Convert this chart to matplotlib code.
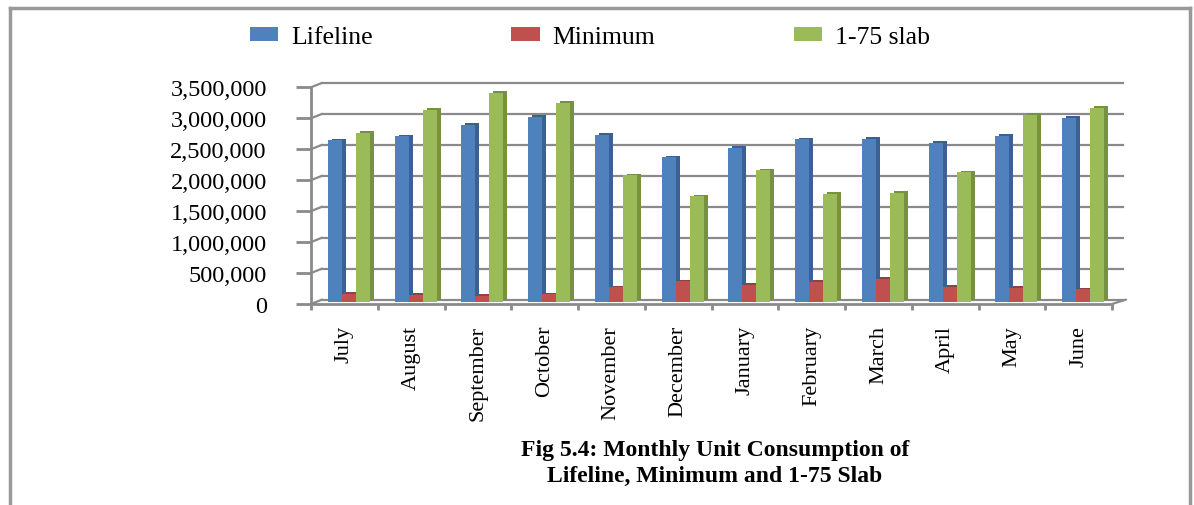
import matplotlib
matplotlib.use("Agg")
import matplotlib.pyplot as plt
from matplotlib.transforms import offset_copy
from matplotlib.lines import Line2D
from matplotlib.ticker import FixedLocator

# ---------------- data ----------------
months = ["July", "August", "September", "October", "November", "December",
          "January", "February", "March", "April", "May", "June"]
lifeline = [2606000, 2670000, 2860000, 2990000, 2700000, 2330000,
            2490000, 2620000, 2630000, 2570000, 2680000, 2970000]
minimum = [124000, 110000, 90000, 120000, 230000, 330000,
           270000, 320000, 370000, 240000, 220000, 200000]
slab_1_75 = [2730000, 3100000, 3370000, 3210000, 2040000, 1700000,
             2120000, 1740000, 1760000, 2090000, 3020000, 3130000]
series_names = ["Lifeline", "Minimum", "1-75 slab"]
y_ticks = [0, 500000, 1000000, 1500000, 2000000, 2500000, 3000000, 3500000]
title_text = "Fig 5.4: Monthly Unit Consumption of\nLifeline, Minimum and 1-75 Slab"

# ---------------- style ----------------
front_cols = ["#4F81BD", "#C0504D", "#9BBB59"]
side_cols = ["#3A6192", "#94403D", "#76923F"]
grid_col = "#8A8A8A"
W, H = 1194, 506
DPI = 100

fig = plt.figure(figsize=(W / DPI, H / DPI), dpi=DPI)
fig.patch.set_facecolor("white")
plt.rcParams['font.family'] = ['Liberation Serif', 'DejaVu Serif']

ax = fig.add_axes([311 / W, (H - 305) / H, 801 / W, (305 - 88.3) / H])
ax.set_xlim(-0.5, len(months) - 0.5)
ax.set_ylim(y_ticks[0], y_ticks[-1])
ax.patch.set_visible(False)
for k in ("top", "right"):
    ax.spines[k].set_visible(False)
for k in ("left", "bottom"):
    ax.spines[k].set_color(grid_col)
    ax.spines[k].set_linewidth(2.0)

# 3D-like back wall
depth_x, depth_y = 11, 4.4
back = offset_copy(ax.transData, fig=fig, x=depth_x, y=depth_y, units='dots')
x0, x1 = -0.5, len(months) - 0.5
for v in y_ticks:
    ax.plot([x0, x1], [v, v], transform=back, color=grid_col, lw=1.6,
            clip_on=False, zorder=1)
    ax.annotate("", xy=(x0, v), xycoords='data', xytext=(depth_x, depth_y),
                textcoords='offset pixels',
                arrowprops=dict(arrowstyle='-', color=grid_col, lw=1.6,
                                shrinkA=0, shrinkB=0), zorder=1)
ax.annotate("", xy=(x1, 0), xycoords='data', xytext=(depth_x + 3, depth_y),
            textcoords='offset pixels',
            arrowprops=dict(arrowstyle='-', color=grid_col, lw=1.6,
                            shrinkA=0, shrinkB=0), zorder=1)

# bars
bw = 0.21
xs = list(range(len(months)))
front_tr = offset_copy(ax.transData, fig=fig, x=4.5, y=2.3, units='dots')
side_tr = offset_copy(ax.transData, fig=fig, x=8.5, y=4.0, units='dots')
containers = []
for i, (vals, fc, sc) in enumerate(zip([lifeline, minimum, slab_1_75], front_cols, side_cols)):
    pos = [x + (i - 1) * bw for x in xs]
    ax.bar(pos, vals, width=bw, color=sc, transform=side_tr, zorder=2 + i * 0.01,
           linewidth=0, clip_on=False)
    c = ax.bar(pos, vals, width=bw, color=fc, transform=front_tr, zorder=3 + i * 0.01,
               linewidth=0, clip_on=False, label=series_names[i])
    containers.append(c)

# y axis ticks
ax.set_yticks(y_ticks)
ax.set_yticklabels([f"{v:,}" for v in y_ticks], fontsize=17.5)
ax.tick_params(axis='y', length=10.8, width=2, color=grid_col, pad=21, labelcolor='black')

# x axis ticks
ax.set_xticks(xs)
ax.set_xticklabels(months, rotation=90, fontsize=16)
ax.tick_params(axis='x', which='major', length=0, pad=15)
ax.xaxis.set_minor_locator(FixedLocator([x - 0.5 for x in range(len(months) + 1)]))
ax.tick_params(axis='x', which='minor', length=4, width=2, color=grid_col)

# legend
fig.legend(handles=containers, labels=series_names, loc='center left',
           bbox_to_anchor=(237 / W, 1 - 38 / H), ncol=3, frameon=False,
           fontsize=18.5, handlelength=1.1, handleheight=0.5, handletextpad=0.5,
           columnspacing=5.4, borderpad=0)

# caption
fig.text(715 / W, 1 - 440 / H, title_text, ha='center', va='top', fontsize=17,
         fontweight='bold', linespacing=1.28)

# outer border (cropped at bottom)
bc = "#999999"
fig.add_artist(Line2D([10 / W, 10 / W], [0, 1 - 9 / H], transform=fig.transFigure,
                      color=bc, lw=2.5))
fig.add_artist(Line2D([10 / W, 1190 / W], [1 - 9 / H, 1 - 9 / H], transform=fig.transFigure,
                      color=bc, lw=2.5))
fig.add_artist(Line2D([1190 / W, 1190 / W], [0, 1 - 9 / H], transform=fig.transFigure,
                      color=bc, lw=2.5))

fig.savefig("out.png", dpi=DPI)
